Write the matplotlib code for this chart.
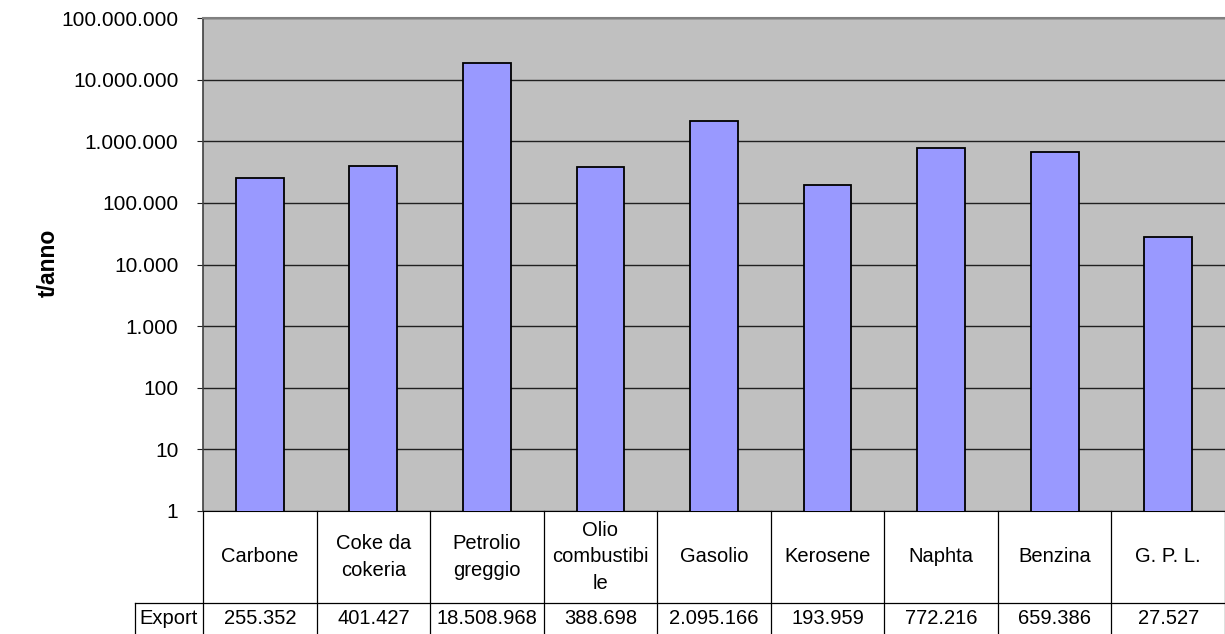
import numpy as np
import matplotlib.pyplot as plt
import matplotlib.transforms as mtransforms
from matplotlib.lines import Line2D
from matplotlib.ticker import FixedLocator, FuncFormatter, NullLocator

plt.rcParams['font.family'] = ['Liberation Sans', 'DejaVu Sans']

# export volumes per product (t/anno)
categories = ['Carbone', 'Coke da\ncokeria', 'Petrolio\ngreggio', 'Olio\ncombustibi\nle',
              'Gasolio', 'Kerosene', 'Naphta', 'Benzina', 'G. P. L.']
export = [255352, 401427, 18508968, 388698, 2095166, 193959, 772216, 659386, 27527]
series_name = 'Export'


def it_fmt(v):
    return f"{int(round(v)):,}".replace(',', '.')


W, H = 1225, 634
fig = plt.figure(figsize=(W / 100, H / 100), dpi=100)
left, right, top, bottom = 203, 1225, 18, 511
ax = fig.add_axes([left / W, 1 - bottom / H, (right - left) / W, (bottom - top) / H])
ax.set_facecolor('#C0C0C0')

x = np.arange(len(export))
ax.bar(x, export, width=0.42, color='#9999FF', edgecolor='black', linewidth=1.3, zorder=3)
ax.set_yscale('log')
ax.set_ylim(1, 1e8)
ax.set_xlim(-0.5, len(export) - 0.5)
ax.yaxis.set_major_locator(FixedLocator(10.0 ** np.arange(0, 9)))
ax.yaxis.set_minor_locator(NullLocator())
ax.yaxis.set_major_formatter(FuncFormatter(lambda v, p: it_fmt(v)))
ax.set_xticks([])
ax.grid(axis='y', color='#202020', linewidth=1, zorder=1)
ax.tick_params(axis='y', length=4.3, width=0.8, labelsize=15, pad=13.5, color='#202020')
ax.spines['top'].set_color('#808080')
ax.spines['top'].set_linewidth(1.5)
ax.spines['right'].set_visible(False)
ax.spines['left'].set_color('#404040')
ax.spines['left'].set_linewidth(1.2)
ax.spines['bottom'].set_color('black')

fig.text(48 / W, 1 - 263 / H, 't/anno', rotation=90, fontweight='bold', fontsize=16.5,
         ha='center', va='center')

# data table under the plot
trans = mtransforms.blended_transform_factory(ax.transData, ax.transAxes)
px = (bottom - top)
col_w = (right - left) / len(export)
y1 = -(603 - bottom) / px
y2 = -(650 - bottom) / px
x_lab = -0.5 - (left - 135) / col_w


def add_line(xs, ys):
    ax.add_line(Line2D(xs, ys, color='black', linewidth=0.9, transform=trans, clip_on=False))


for b in np.arange(len(export) + 1) - 0.5:
    add_line([b, b], [0, y2])
add_line([x_lab, len(export) - 0.5], [y1, y1])
add_line([x_lab, x_lab], [y1, y2])

for i, (c, v) in enumerate(zip(categories, export)):
    ax.text(i, y1 / 2, c, transform=trans, ha='center', va='center', fontsize=14.5,
            linespacing=1.5, clip_on=False)
    ax.text(i, -(619 - bottom) / px, it_fmt(v), transform=trans, ha='center', va='center',
            fontsize=14.5, clip_on=False)
ax.text((x_lab - 0.5) / 2, -(619 - bottom) / px, series_name, transform=trans,
        ha='center', va='center', fontsize=14.5, clip_on=False)

fig.savefig('out.png', dpi=100)
